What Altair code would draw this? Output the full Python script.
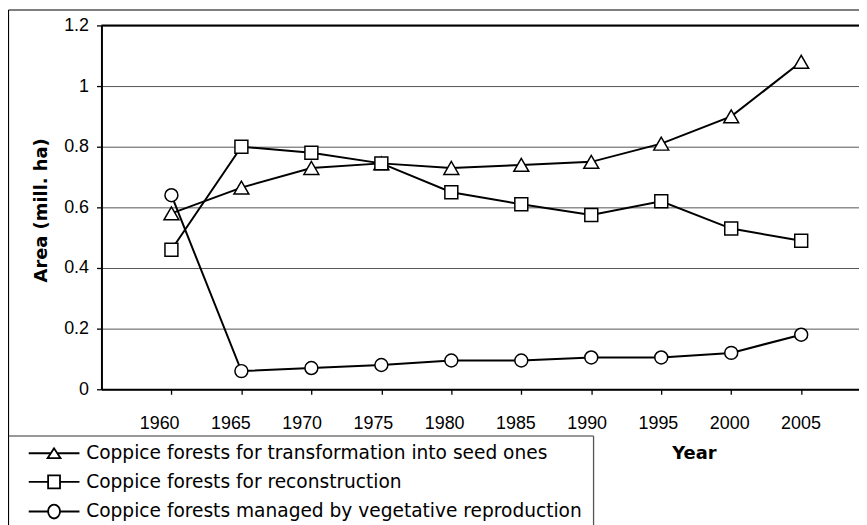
import altair as alt
import pandas as pd

# ---------------- data ----------------
years = [1960, 1965, 1970, 1975, 1980, 1985, 1990, 1995, 2000, 2005]
series_names = [
    "Coppice forests for transformation into seed ones",
    "Coppice forests for reconstruction",
    "Coppice forests managed by vegetative reproduction",
]
transformation = [0.58, 0.665, 0.73, 0.745, 0.73, 0.74, 0.75, 0.81, 0.90, 1.08]
reconstruction = [0.46, 0.80, 0.78, 0.745, 0.65, 0.61, 0.575, 0.62, 0.53, 0.49]
vegetative = [0.64, 0.06, 0.07, 0.08, 0.095, 0.095, 0.105, 0.105, 0.12, 0.18]
y_ticks = [0, 0.2, 0.4, 0.6, 0.8, 1.0, 1.2]

rows = []
for name, vals in zip(series_names, [transformation, reconstruction, vegetative]):
    for yr, v in zip(years, vals):
        rows.append({"Year": yr, "Series": name, "Area": v})
df = pd.DataFrame(rows)

# ---------------- styles / layout ----------------
W, H = 762, 366
ARIAL = "Liberation Sans"
WIDE = "DejaVu Sans"
marker_shapes = ["triangle-up", "square", "circle"]
marker_sizes = [225, 169, 169]

# legend symbols: left stub, marker, right stub (unit = sqrt(size)/2)
cx = 2.92
def f(v):
    return f"{v:.3f}"
legend_paths = [
    f"M-1,0H{f(cx-0.5)}M{f(cx+0.5)},0H6.85M{f(cx)},-0.77L{f(cx-1)},0.77L{f(cx+1)},0.77Z",
    f"M-1,0H{f(cx-0.92)}M{f(cx+0.92)},0H6.85M{f(cx-0.92)},-1H{f(cx+0.92)}V1H{f(cx-0.92)}Z",
    f"M-1,0H{f(cx-0.92)}M{f(cx+0.92)},0H6.85M{f(cx+0.92)},0A0.92,1.08 0 1,1 {f(cx-0.92)},0A0.92,1.08 0 1,1 {f(cx+0.92)},0Z",
]

x_main = alt.X(
    "Year:Q",
    scale=alt.Scale(domain=[1955, 2009.13], nice=False, zero=False),
    axis=alt.Axis(
        orient="bottom", values=years, labels=False, ticks=True, tickSize=5,
        tickColor="black", tickWidth=1.3, domainColor="black", domainWidth=2,
        grid=False, title=None,
    ),
)
y_main = alt.Y(
    "Area:Q",
    scale=alt.Scale(domain=[0, 1.2], nice=False, zero=True),
    axis=alt.Axis(
        values=y_ticks, format="~g", grid=True, gridColor="#555555", gridWidth=1,
        domainColor="black", domainWidth=2, tickColor="black", tickSize=5,
        tickWidth=1.3, labelFont=ARIAL, labelFontSize=18, labelColor="black",
        labelPadding=8, title="Area (mill. ha)", titleFont=WIDE, titleFontSize=18,
        titleFontWeight="bold", titleColor="black", titleX=-55, titleY=185.5,
        titleAngle=270, titleAlign="center", titleBaseline="alphabetic",
    ),
)

base = alt.Chart(df)
series_layers = []
for name, shp, sz in zip(series_names, marker_shapes, marker_sizes):
    sub = base.transform_filter(alt.datum.Series == name)
    ln = sub.mark_line(color="black", strokeWidth=2).encode(x=x_main, y=y_main)
    pt = sub.mark_point(
        shape=shp, size=sz, filled=True, fill="white", stroke="black",
        strokeWidth=1.5, opacity=1,
    ).encode(x=x_main, y=y_main)
    series_layers += [ln, pt]
plot_group = alt.layer(*series_layers)

# year labels (own axis, label positions as in the original)
labels_layer = base.mark_point(opacity=0).encode(
    x=alt.X(
        "Year:Q",
        scale=alt.Scale(domain=[1955.95, 2009.11], nice=False, zero=False),
        axis=alt.Axis(
            orient="bottom", values=years, format="d", ticks=False, tickSize=0,
            domain=False, grid=False, labelFont=ARIAL, labelFontSize=18,
            labelColor="black", labelBaseline="alphabetic", labelPadding=39,
            labelFlush=False, labelOverlap=False,
            title="Year", titleFont=WIDE, titleFontSize=18, titleFontWeight="bold",
            titleColor="black", titleX=596, titleY=70, titleAlign="center",
            titleBaseline="alphabetic",
        ),
    )
)

# legend
legend_layer = base.transform_filter("false").mark_point(
    filled=False, size=169, strokeWidth=1.8, color="black"
).encode(
    shape=alt.Shape(
        "Series:N",
        scale=alt.Scale(domain=series_names, range=legend_paths),
        legend=alt.Legend(
            title=None, orient="none", legendX=-76, legendY=421, padding=0,
            rowPadding=7.8, symbolSize=169, symbolStrokeWidth=1.8,
            symbolStrokeColor="black", symbolFillColor="white", symbolOpacity=1,
            labelFont=WIDE, labelFontSize=18.7, labelColor="black",
            labelOffset=42, labelLimit=1000,
        ),
    )
)

one = pd.DataFrame({"k": [0]})
def hrule(x, x2, y, color, width):
    return alt.Chart(one).mark_rule(color=color, strokeWidth=width).encode(
        x=alt.value(x), x2=alt.value(x2), y=alt.value(y))
def vrule(x, y, y2, color, width):
    return alt.Chart(one).mark_rule(color=color, strokeWidth=width).encode(
        x=alt.value(x), y=alt.value(y), y2=alt.value(y2))

frame = [
    vrule(-93.5, -15.5, 510, "black", 1.2),
    hrule(-93.5, 770, -15.5, "black", 1.2),
    hrule(-93.5, 495, 413, "#333333", 1.2),
    vrule(495, 413, 510, "#555555", 1.3),
    hrule(0, W, 0, "black", 2),
]

chart = alt.layer(plot_group, labels_layer, legend_layer, *frame).resolve_scale(
    x="independent"
).properties(
    width=W, height=H,
    autosize=alt.AutoSizeParams(type="none"),
    padding={"left": 94, "top": 16, "right": 0, "bottom": 135},
    background="white",
).configure_view(stroke=None).configure(font=ARIAL)

chart.save("out.html", embed_options={"renderer": "svg", "actions": False})
